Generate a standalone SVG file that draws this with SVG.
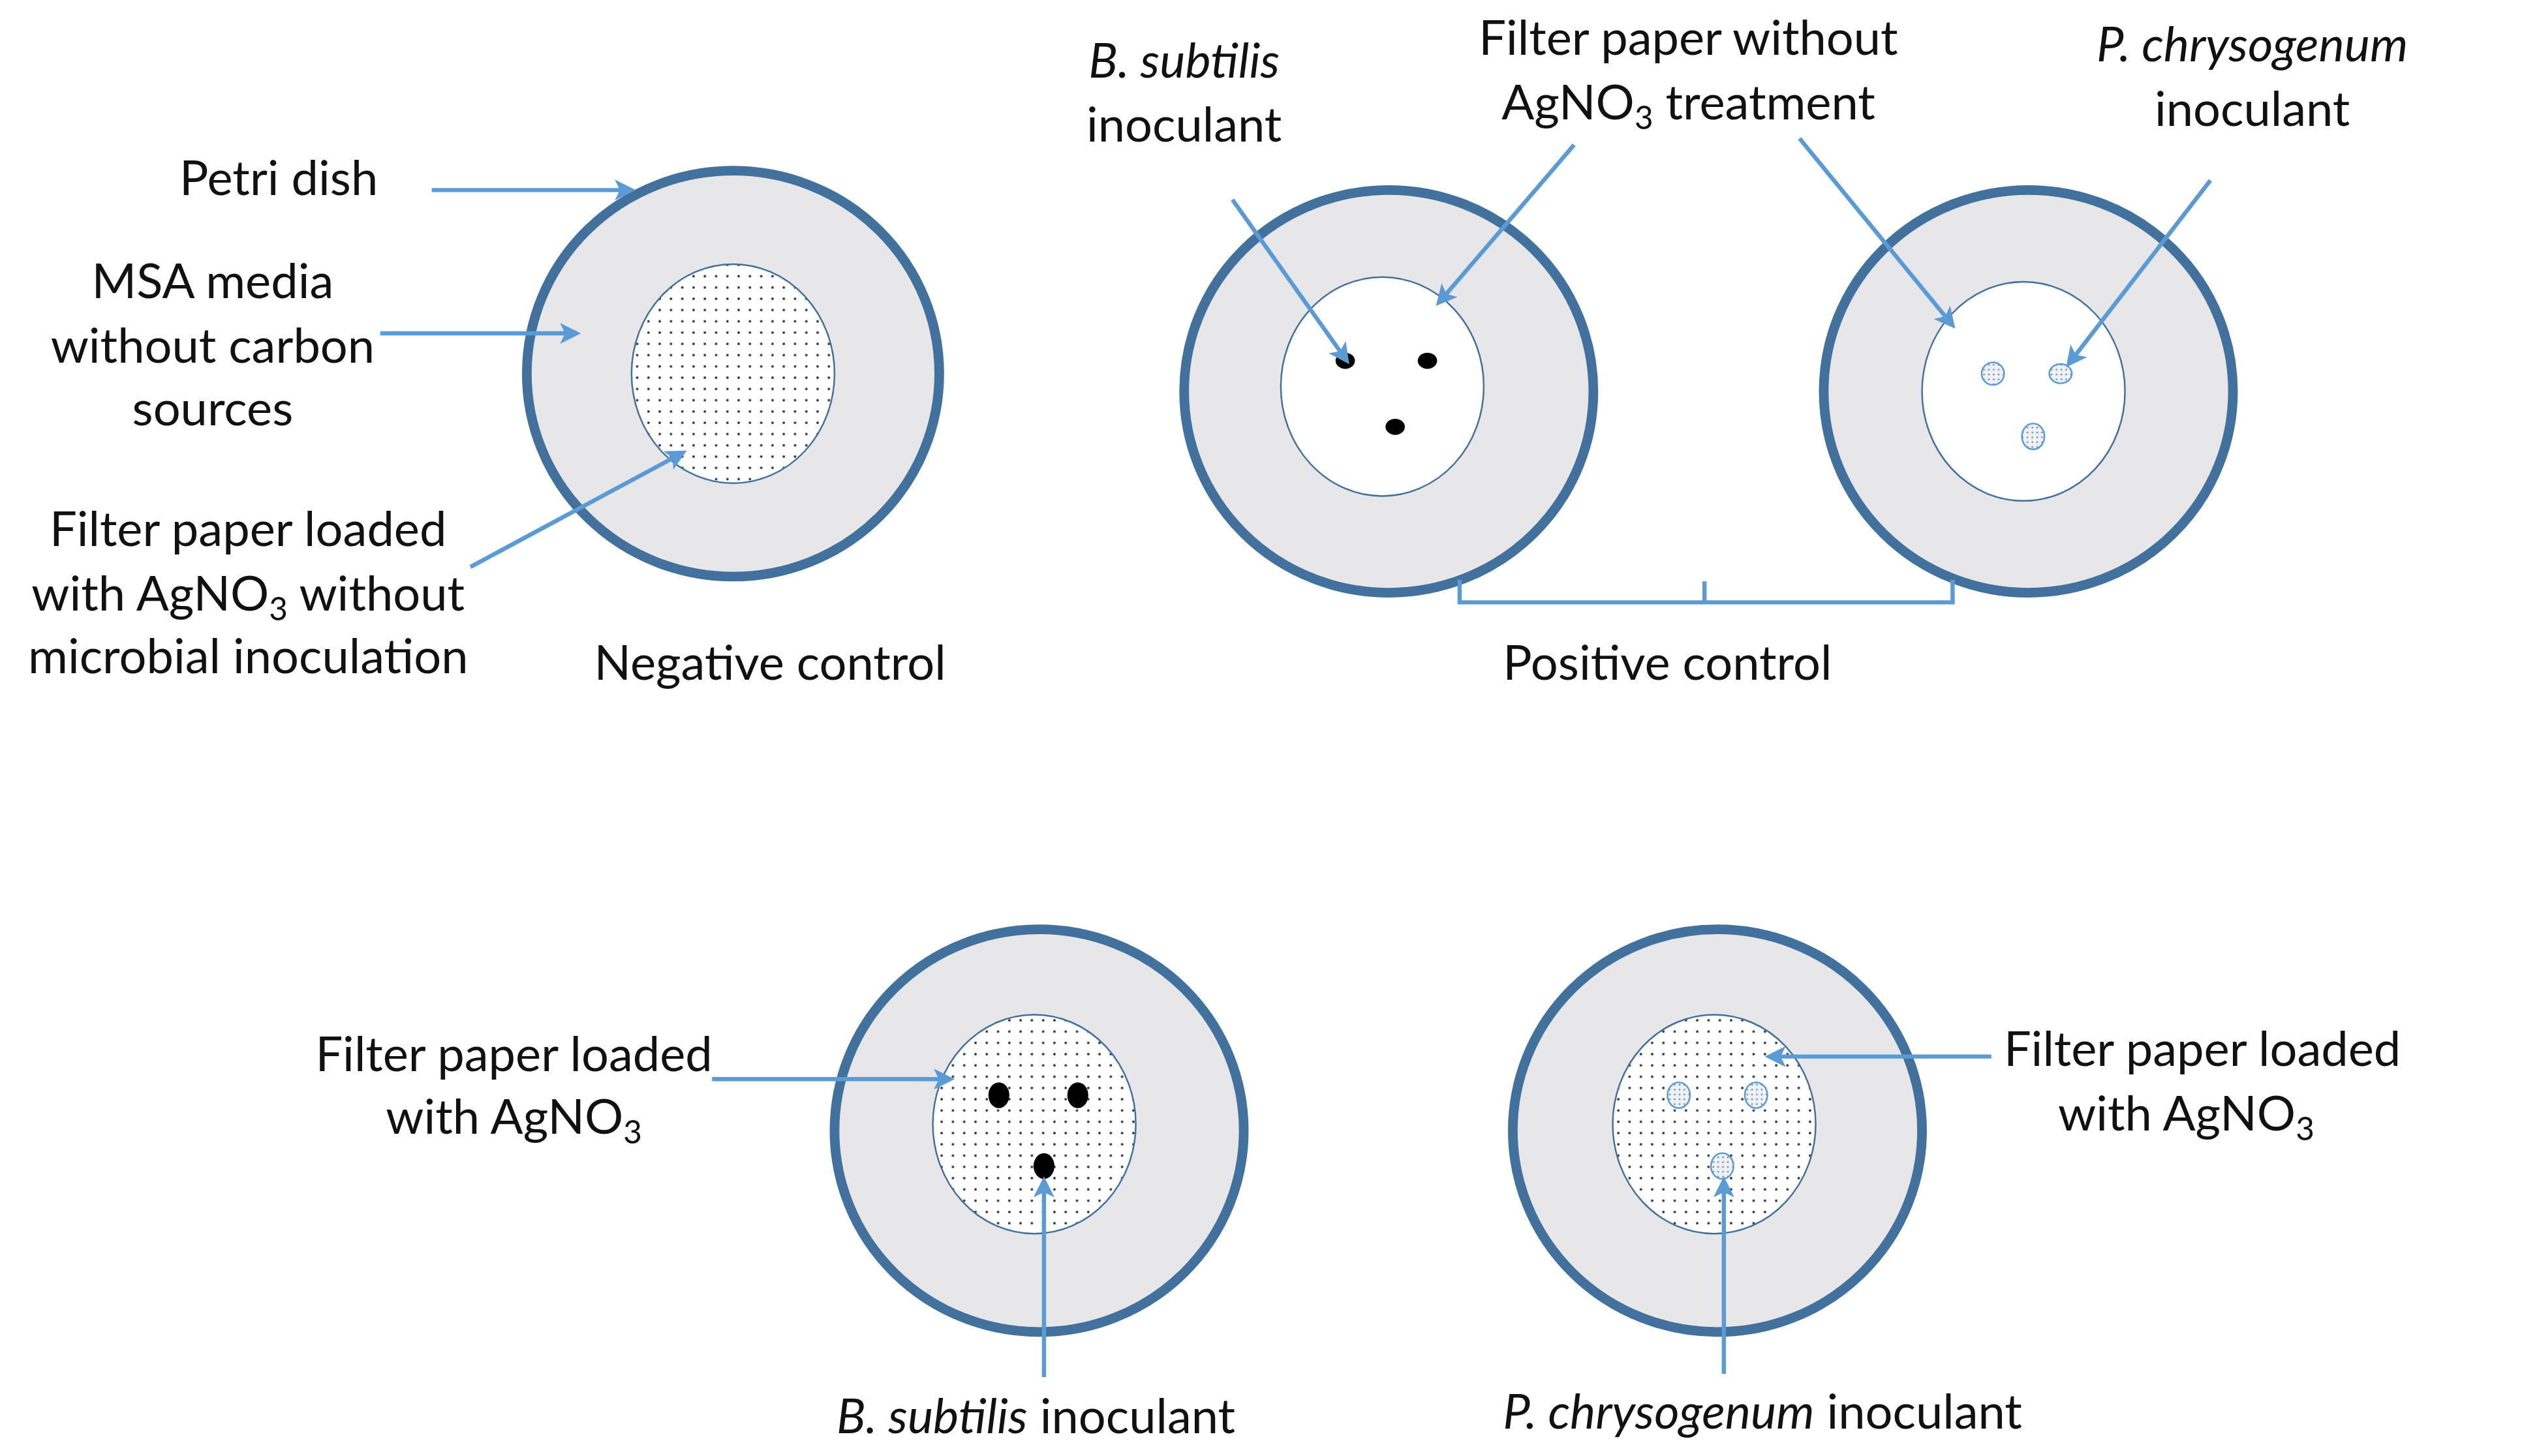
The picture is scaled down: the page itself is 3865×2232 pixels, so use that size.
<svg xmlns="http://www.w3.org/2000/svg" width="3865" height="2232" viewBox="0 0 3865 2232">
<style>
text{font-family:Lato,"Open Sans","Liberation Sans",sans-serif;font-size:30px;fill:#111;text-anchor:middle}
.it{font-style:italic}
.dish{fill:#e7e6e8;stroke:#41719c;stroke-width:6}
.fp{stroke:#41719c;stroke-width:1}
.ln{stroke:#5b9bd5;stroke-width:2.6;fill:none}
.ar{stroke:#5b9bd5;stroke-width:2.6;fill:none;marker-end:url(#ah)}
.bk{fill:#000}
.sp{fill:url(#dots2);stroke:#5b9bd5;stroke-width:1}
</style>
<defs>
<pattern id="dots" width="7" height="7" patternUnits="userSpaceOnUse"><rect width="7" height="7" fill="#fff"/><circle cx="3.5" cy="3.5" r="0.8" fill="#333"/></pattern>
<pattern id="dots2" width="3" height="3" patternUnits="userSpaceOnUse"><rect width="3" height="3" fill="#eef2f6"/><circle cx="1.5" cy="1.5" r="0.6" fill="#7a8fa3"/></pattern>
<marker id="ah" markerWidth="5" markerHeight="5" refX="4" refY="2.5" orient="auto" markerUnits="strokeWidth"><path d="M0,0 L5,2.5 L0,5 L1.2,2.5 Z" fill="#5b9bd5"/></marker>
</defs>
<rect width="3865" height="2232" fill="#fff"/>
<g transform="scale(2.469)">
<g id="dish-negative">
<ellipse class="dish" cx="455" cy="232" rx="128" ry="126"/>
<ellipse class="fp" cx="455" cy="232" rx="63" ry="68" fill="url(#dots)"/>
</g>
<g id="dish-pos-bs">
<ellipse class="dish" cx="862" cy="243" rx="127" ry="125"/>
<ellipse class="fp" cx="858" cy="240" rx="63" ry="68" fill="#fff"/>
<ellipse class="bk" cx="835" cy="224" rx="6" ry="5"/>
<ellipse class="bk" cx="886" cy="224" rx="6" ry="5"/>
<ellipse class="bk" cx="866" cy="265" rx="6" ry="5"/>
</g>
<g id="dish-pos-pc">
<ellipse class="dish" cx="1259" cy="243" rx="127" ry="125"/>
<ellipse class="fp" cx="1256" cy="243" rx="63" ry="68" fill="#fff"/>
<ellipse class="sp" cx="1237" cy="232" rx="7" ry="7"/>
<ellipse class="sp" cx="1279" cy="232" rx="7" ry="6"/>
<ellipse class="sp" cx="1262" cy="271" rx="7" ry="8"/>
</g>
<g id="dish-ag-bs">
<ellipse class="dish" cx="645" cy="702" rx="127" ry="125"/>
<ellipse class="fp" cx="642" cy="698" rx="63" ry="68" fill="url(#dots)"/>
<ellipse class="bk" cx="620" cy="680" rx="6.5" ry="8"/>
<ellipse class="bk" cx="669" cy="680" rx="6.5" ry="8"/>
<ellipse class="bk" cx="648" cy="724" rx="6.5" ry="8"/>
</g>
<g id="dish-ag-pc">
<ellipse class="dish" cx="1066" cy="702" rx="127" ry="125"/>
<ellipse class="fp" cx="1064" cy="698" rx="63" ry="68" fill="url(#dots)"/>
<ellipse class="sp" cx="1042" cy="680" rx="7" ry="8"/>
<ellipse class="sp" cx="1090" cy="680" rx="7" ry="8"/>
<ellipse class="sp" cx="1069" cy="724" rx="7" ry="8"/>
</g>
<g id="connectors">
<path class="ar" d="M268,118 L392,118"/>
<path class="ar" d="M236,207 L358,207"/>
<path class="ar" d="M292,352 L424,281"/>
<path class="ar" d="M765,124 L836,224"/>
<path class="ar" d="M977,90 L893,188"/>
<path class="ar" d="M1117,86 L1212,202"/>
<path class="ar" d="M1372,112 L1284,226"/>
<path class="ar" d="M442,670 L590,670"/>
<path class="ar" d="M648,855 L648,733"/>
<path class="ar" d="M1236,656 L1098,656"/>
<path class="ar" d="M1070,853 L1070,733"/>
<path class="ln" d="M906,360 L906,374 L1212,374 L1212,360 M1058,374 L1058,361"/>
</g>
<g id="labels">
<text x="173" y="121">Petri dish</text>
<text x="132" y="185">MSA media</text>
<text x="132" y="225">without carbon</text>
<text x="132" y="264">sources</text>
<text x="154" y="339">Filter paper loaded</text>
<text x="154" y="379">with AgNO<tspan font-size="20" dy="6">3</tspan><tspan dy="-6"> without</tspan></text>
<text x="154" y="418">microbial inoculation</text>
<text x="478" y="422">Negative control</text>
<text x="735" y="48" class="it">B. subtilis</text>
<text x="735" y="88">inoculant</text>
<text x="1048" y="34">Filter paper without</text>
<text x="1048" y="74">AgNO<tspan font-size="20" dy="6">3</tspan><tspan dy="-6"> treatment</tspan></text>
<text x="1398" y="38" class="it">P. chrysogenum</text>
<text x="1398" y="78">inoculant</text>
<text x="1035" y="422">Positive control</text>
<text x="319" y="665">Filter paper loaded</text>
<text x="319" y="704">with AgNO<tspan font-size="20" dy="6">3</tspan></text>
<text x="1367" y="662">Filter paper loaded</text>
<text x="1357" y="702">with AgNO<tspan font-size="20" dy="6">3</tspan></text>
<text x="643" y="890"><tspan class="it">B. subtilis</tspan> inoculant</text>
<text x="1094" y="887"><tspan class="it">P. chrysogenum</tspan> inoculant</text>
</g>
</g>
</svg>
